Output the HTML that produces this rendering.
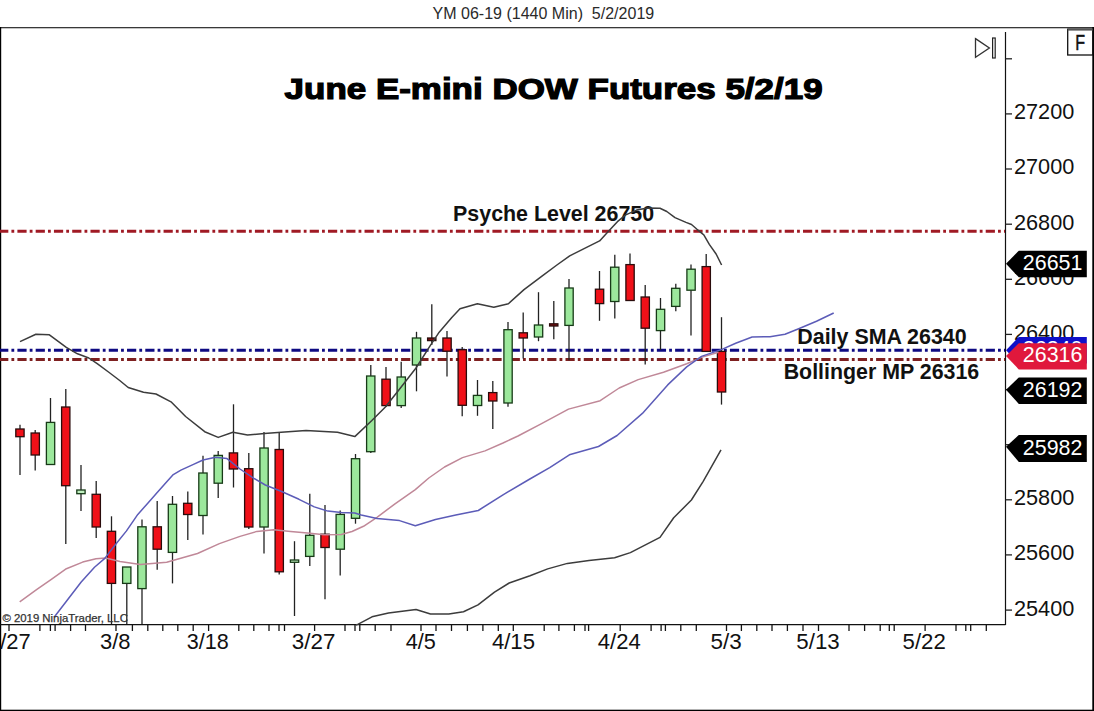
<!DOCTYPE html>
<html><head><meta charset="utf-8"><style>
html,body{margin:0;padding:0;background:#fff;}
body{width:1094px;height:711px;position:relative;overflow:hidden;font-family:"Liberation Sans",sans-serif;}
</style></head><body>
<svg width="1094" height="711" viewBox="0 0 1094 711" style="position:absolute;left:0;top:0">
<rect x="0" y="0" width="1094" height="711" fill="#fff"/>
<rect x="0" y="27" width="1094" height="1.3" fill="#383838"/>
<rect x="0" y="27" width="1.2" height="684" fill="#000"/>
<rect x="1092.3" y="27" width="1.7" height="684" fill="#000"/>
<rect x="0" y="709.7" width="1094" height="1.3" fill="#000"/>
<text x="432.6" y="19.4" font-family="Liberation Sans" font-size="16" fill="#2a2a2a" textLength="221.6" lengthAdjust="spacingAndGlyphs" xml:space="preserve">YM 06-19 (1440 Min)  5/2/2019</text>
<line x1="1005.5" y1="32" x2="1005.5" y2="625" stroke="#111" stroke-width="1.2"/>
<line x1="0" y1="624.6" x2="1005.5" y2="624.6" stroke="#111" stroke-width="1.2"/>
<line x1="9.0" y1="624.6" x2="9.0" y2="631" stroke="#151515" stroke-width="1.3"/>
<line x1="39.9" y1="624.6" x2="39.9" y2="631" stroke="#151515" stroke-width="1.3"/>
<line x1="50.4" y1="624.6" x2="50.4" y2="631" stroke="#151515" stroke-width="1.3"/>
<line x1="55.1" y1="624.6" x2="55.1" y2="631" stroke="#151515" stroke-width="1.3"/>
<line x1="70.6" y1="624.6" x2="70.6" y2="631" stroke="#151515" stroke-width="1.3"/>
<line x1="85.5" y1="624.6" x2="85.5" y2="631" stroke="#151515" stroke-width="1.3"/>
<line x1="116.0" y1="624.6" x2="116.0" y2="631" stroke="#151515" stroke-width="1.3"/>
<line x1="132.4" y1="624.6" x2="132.4" y2="631" stroke="#151515" stroke-width="1.3"/>
<line x1="147.8" y1="624.6" x2="147.8" y2="631" stroke="#151515" stroke-width="1.3"/>
<line x1="162.8" y1="624.6" x2="162.8" y2="631" stroke="#151515" stroke-width="1.3"/>
<line x1="177.8" y1="624.6" x2="177.8" y2="631" stroke="#151515" stroke-width="1.3"/>
<line x1="193.2" y1="624.6" x2="193.2" y2="631" stroke="#151515" stroke-width="1.3"/>
<line x1="208.6" y1="624.6" x2="208.6" y2="631" stroke="#151515" stroke-width="1.3"/>
<line x1="238.8" y1="624.6" x2="238.8" y2="631" stroke="#151515" stroke-width="1.3"/>
<line x1="253.8" y1="624.6" x2="253.8" y2="631" stroke="#151515" stroke-width="1.3"/>
<line x1="269.0" y1="624.6" x2="269.0" y2="631" stroke="#151515" stroke-width="1.3"/>
<line x1="279.0" y1="624.6" x2="279.0" y2="631" stroke="#151515" stroke-width="1.3"/>
<line x1="284.5" y1="624.6" x2="284.5" y2="631" stroke="#151515" stroke-width="1.3"/>
<line x1="314.6" y1="624.6" x2="314.6" y2="631" stroke="#151515" stroke-width="1.3"/>
<line x1="345.0" y1="624.6" x2="345.0" y2="631" stroke="#151515" stroke-width="1.3"/>
<line x1="355.0" y1="624.6" x2="355.0" y2="631" stroke="#151515" stroke-width="1.3"/>
<line x1="359.8" y1="624.6" x2="359.8" y2="631" stroke="#151515" stroke-width="1.3"/>
<line x1="375.2" y1="624.6" x2="375.2" y2="631" stroke="#151515" stroke-width="1.3"/>
<line x1="391.0" y1="624.6" x2="391.0" y2="631" stroke="#151515" stroke-width="1.3"/>
<line x1="421.0" y1="624.6" x2="421.0" y2="631" stroke="#151515" stroke-width="1.3"/>
<line x1="436.0" y1="624.6" x2="436.0" y2="631" stroke="#151515" stroke-width="1.3"/>
<line x1="451.5" y1="624.6" x2="451.5" y2="631" stroke="#151515" stroke-width="1.3"/>
<line x1="467.4" y1="624.6" x2="467.4" y2="631" stroke="#151515" stroke-width="1.3"/>
<line x1="482.9" y1="624.6" x2="482.9" y2="631" stroke="#151515" stroke-width="1.3"/>
<line x1="498.3" y1="624.6" x2="498.3" y2="631" stroke="#151515" stroke-width="1.3"/>
<line x1="513.3" y1="624.6" x2="513.3" y2="631" stroke="#151515" stroke-width="1.3"/>
<line x1="544.2" y1="624.6" x2="544.2" y2="631" stroke="#151515" stroke-width="1.3"/>
<line x1="558.9" y1="624.6" x2="558.9" y2="631" stroke="#151515" stroke-width="1.3"/>
<line x1="574.4" y1="624.6" x2="574.4" y2="631" stroke="#151515" stroke-width="1.3"/>
<line x1="585.0" y1="624.6" x2="585.0" y2="631" stroke="#151515" stroke-width="1.3"/>
<line x1="588.6" y1="624.6" x2="588.6" y2="631" stroke="#151515" stroke-width="1.3"/>
<line x1="620.2" y1="624.6" x2="620.2" y2="631" stroke="#151515" stroke-width="1.3"/>
<line x1="651.1" y1="624.6" x2="651.1" y2="631" stroke="#151515" stroke-width="1.3"/>
<line x1="661.1" y1="624.6" x2="661.1" y2="631" stroke="#151515" stroke-width="1.3"/>
<line x1="665.4" y1="624.6" x2="665.4" y2="631" stroke="#151515" stroke-width="1.3"/>
<line x1="680.8" y1="624.6" x2="680.8" y2="631" stroke="#151515" stroke-width="1.3"/>
<line x1="696.3" y1="624.6" x2="696.3" y2="631" stroke="#151515" stroke-width="1.3"/>
<line x1="726.5" y1="624.6" x2="726.5" y2="631" stroke="#151515" stroke-width="1.3"/>
<line x1="741.4" y1="624.6" x2="741.4" y2="631" stroke="#151515" stroke-width="1.3"/>
<line x1="756.8" y1="624.6" x2="756.8" y2="631" stroke="#151515" stroke-width="1.3"/>
<line x1="772.0" y1="624.6" x2="772.0" y2="631" stroke="#151515" stroke-width="1.3"/>
<line x1="787.4" y1="624.6" x2="787.4" y2="631" stroke="#151515" stroke-width="1.3"/>
<line x1="803.0" y1="624.6" x2="803.0" y2="631" stroke="#151515" stroke-width="1.3"/>
<line x1="818.5" y1="624.6" x2="818.5" y2="631" stroke="#151515" stroke-width="1.3"/>
<line x1="849.0" y1="624.6" x2="849.0" y2="631" stroke="#151515" stroke-width="1.3"/>
<line x1="864.6" y1="624.6" x2="864.6" y2="631" stroke="#151515" stroke-width="1.3"/>
<line x1="880.2" y1="624.6" x2="880.2" y2="631" stroke="#151515" stroke-width="1.3"/>
<line x1="889.3" y1="624.6" x2="889.3" y2="631" stroke="#151515" stroke-width="1.3"/>
<line x1="894.2" y1="624.6" x2="894.2" y2="631" stroke="#151515" stroke-width="1.3"/>
<line x1="925.1" y1="624.6" x2="925.1" y2="631" stroke="#151515" stroke-width="1.3"/>
<line x1="956.0" y1="624.6" x2="956.0" y2="631" stroke="#151515" stroke-width="1.3"/>
<line x1="965.8" y1="624.6" x2="965.8" y2="631" stroke="#151515" stroke-width="1.3"/>
<line x1="970.7" y1="624.6" x2="970.7" y2="631" stroke="#151515" stroke-width="1.3"/>
<line x1="986.3" y1="624.6" x2="986.3" y2="631" stroke="#151515" stroke-width="1.3"/>
<line x1="1005.5" y1="58.8" x2="1012" y2="58.8" stroke="#222" stroke-width="1.3"/>
<line x1="1005.5" y1="113.9" x2="1012" y2="113.9" stroke="#222" stroke-width="1.3"/>
<line x1="1005.5" y1="169.0" x2="1012" y2="169.0" stroke="#222" stroke-width="1.3"/>
<line x1="1005.5" y1="224.2" x2="1012" y2="224.2" stroke="#222" stroke-width="1.3"/>
<line x1="1005.5" y1="279.3" x2="1012" y2="279.3" stroke="#222" stroke-width="1.3"/>
<line x1="1005.5" y1="334.4" x2="1012" y2="334.4" stroke="#222" stroke-width="1.3"/>
<line x1="1005.5" y1="389.6" x2="1012" y2="389.6" stroke="#222" stroke-width="1.3"/>
<line x1="1005.5" y1="444.7" x2="1012" y2="444.7" stroke="#222" stroke-width="1.3"/>
<line x1="1005.5" y1="499.8" x2="1012" y2="499.8" stroke="#222" stroke-width="1.3"/>
<line x1="1005.5" y1="554.9" x2="1012" y2="554.9" stroke="#222" stroke-width="1.3"/>
<line x1="1005.5" y1="610.1" x2="1012" y2="610.1" stroke="#222" stroke-width="1.3"/>
<text x="1014.0" y="119.3" font-family="Liberation Sans" font-size="21.5" fill="#111" textLength="60.3" lengthAdjust="spacingAndGlyphs">27200</text>
<text x="1014.0" y="174.4" font-family="Liberation Sans" font-size="21.5" fill="#111" textLength="60.3" lengthAdjust="spacingAndGlyphs">27000</text>
<text x="1014.0" y="229.6" font-family="Liberation Sans" font-size="21.5" fill="#111" textLength="60.3" lengthAdjust="spacingAndGlyphs">26800</text>
<text x="1014.0" y="284.7" font-family="Liberation Sans" font-size="21.5" fill="#111" textLength="60.3" lengthAdjust="spacingAndGlyphs">26600</text>
<text x="1014.0" y="339.8" font-family="Liberation Sans" font-size="21.5" fill="#111" textLength="60.3" lengthAdjust="spacingAndGlyphs">26400</text>
<text x="1014.0" y="505.2" font-family="Liberation Sans" font-size="21.5" fill="#111" textLength="60.3" lengthAdjust="spacingAndGlyphs">25800</text>
<text x="1014.0" y="560.3" font-family="Liberation Sans" font-size="21.5" fill="#111" textLength="60.3" lengthAdjust="spacingAndGlyphs">25600</text>
<text x="1014.0" y="615.5" font-family="Liberation Sans" font-size="21.5" fill="#111" textLength="60.3" lengthAdjust="spacingAndGlyphs">25400</text>
<text x="0.2" y="649.1" font-family="Liberation Sans" font-size="21.5" fill="#111" textLength="30.5" lengthAdjust="spacingAndGlyphs">/27</text>
<text x="100.0" y="649.1" font-family="Liberation Sans" font-size="21.5" fill="#111" textLength="30.5" lengthAdjust="spacingAndGlyphs">3/8</text>
<text x="186.7" y="649.1" font-family="Liberation Sans" font-size="21.5" fill="#111" textLength="42.0" lengthAdjust="spacingAndGlyphs">3/18</text>
<text x="291.8" y="649.1" font-family="Liberation Sans" font-size="21.5" fill="#111" textLength="43.6" lengthAdjust="spacingAndGlyphs">3/27</text>
<text x="405.8" y="649.1" font-family="Liberation Sans" font-size="21.5" fill="#111" textLength="30.1" lengthAdjust="spacingAndGlyphs">4/5</text>
<text x="491.9" y="649.1" font-family="Liberation Sans" font-size="21.5" fill="#111" textLength="43.1" lengthAdjust="spacingAndGlyphs">4/15</text>
<text x="597.8" y="649.1" font-family="Liberation Sans" font-size="21.5" fill="#111" textLength="42.9" lengthAdjust="spacingAndGlyphs">4/24</text>
<text x="710.5" y="649.1" font-family="Liberation Sans" font-size="21.5" fill="#111" textLength="31.2" lengthAdjust="spacingAndGlyphs">5/3</text>
<text x="796.3" y="649.1" font-family="Liberation Sans" font-size="21.5" fill="#111" textLength="43.4" lengthAdjust="spacingAndGlyphs">5/13</text>
<text x="902.6" y="649.1" font-family="Liberation Sans" font-size="21.5" fill="#111" textLength="43.2" lengthAdjust="spacingAndGlyphs">5/22</text>
<line x1="0" y1="231.3" x2="1005" y2="231.3" stroke="#a01a24" stroke-width="3" stroke-dasharray="9.2 3.1 2.8 3.17" stroke-dashoffset="0.87"/>
<line x1="0" y1="350.2" x2="1005" y2="350.2" stroke="#0e0a82" stroke-width="3" stroke-dasharray="9.2 3.1 2.8 3.17" stroke-dashoffset="0.87"/>
<line x1="0" y1="359.6" x2="1005" y2="359.6" stroke="#7e2020" stroke-width="3" stroke-dasharray="9.2 3.1 2.8 3.17" stroke-dashoffset="0.87"/>
<line x1="20.0" y1="424.8" x2="20.0" y2="475.0" stroke="#222" stroke-width="1.3"/>
<rect x="15.8" y="429.0" width="8.3" height="7.7" fill="#f01018" stroke="#2a0c0c" stroke-width="1.3"/>
<line x1="35.2" y1="430.0" x2="35.2" y2="470.5" stroke="#222" stroke-width="1.3"/>
<rect x="31.1" y="433.0" width="8.3" height="22.0" fill="#f01018" stroke="#2a0c0c" stroke-width="1.3"/>
<line x1="50.5" y1="398.0" x2="50.5" y2="464.5" stroke="#222" stroke-width="1.3"/>
<rect x="46.4" y="422.4" width="8.3" height="42.1" fill="#9ce89c" stroke="#173a17" stroke-width="1.3"/>
<line x1="65.8" y1="389.0" x2="65.8" y2="544.0" stroke="#222" stroke-width="1.3"/>
<rect x="61.6" y="407.0" width="8.3" height="78.7" fill="#f01018" stroke="#2a0c0c" stroke-width="1.3"/>
<line x1="81.0" y1="465.0" x2="81.0" y2="511.0" stroke="#222" stroke-width="1.3"/>
<rect x="76.8" y="490.0" width="8.3" height="3.7" fill="#c0f0c0" stroke="#173a17" stroke-width="1.3"/>
<line x1="96.2" y1="481.0" x2="96.2" y2="538.0" stroke="#222" stroke-width="1.3"/>
<rect x="92.1" y="494.3" width="8.3" height="32.7" fill="#f01018" stroke="#2a0c0c" stroke-width="1.3"/>
<line x1="111.5" y1="516.3" x2="111.5" y2="624.0" stroke="#222" stroke-width="1.3"/>
<rect x="107.3" y="531.3" width="8.3" height="52.1" fill="#f01018" stroke="#2a0c0c" stroke-width="1.3"/>
<line x1="126.8" y1="567.0" x2="126.8" y2="624.0" stroke="#222" stroke-width="1.3"/>
<rect x="122.6" y="567.0" width="8.3" height="16.4" fill="#9ce89c" stroke="#173a17" stroke-width="1.3"/>
<line x1="142.0" y1="519.5" x2="142.0" y2="624.0" stroke="#222" stroke-width="1.3"/>
<rect x="137.8" y="526.8" width="8.3" height="61.8" fill="#9ce89c" stroke="#173a17" stroke-width="1.3"/>
<line x1="157.2" y1="501.0" x2="157.2" y2="569.7" stroke="#222" stroke-width="1.3"/>
<rect x="153.1" y="526.8" width="8.3" height="22.4" fill="#f01018" stroke="#2a0c0c" stroke-width="1.3"/>
<line x1="172.5" y1="496.0" x2="172.5" y2="583.4" stroke="#222" stroke-width="1.3"/>
<rect x="168.3" y="504.3" width="8.3" height="48.1" fill="#9ce89c" stroke="#173a17" stroke-width="1.3"/>
<line x1="187.8" y1="491.6" x2="187.8" y2="540.0" stroke="#222" stroke-width="1.3"/>
<rect x="183.6" y="503.3" width="8.3" height="11.2" fill="#f01018" stroke="#2a0c0c" stroke-width="1.3"/>
<line x1="203.0" y1="455.8" x2="203.0" y2="534.5" stroke="#222" stroke-width="1.3"/>
<rect x="198.8" y="473.0" width="8.3" height="42.5" fill="#9ce89c" stroke="#173a17" stroke-width="1.3"/>
<line x1="218.2" y1="451.0" x2="218.2" y2="498.0" stroke="#222" stroke-width="1.3"/>
<rect x="214.1" y="455.4" width="8.3" height="27.8" fill="#9ce89c" stroke="#173a17" stroke-width="1.3"/>
<line x1="233.5" y1="404.3" x2="233.5" y2="487.5" stroke="#222" stroke-width="1.3"/>
<rect x="229.3" y="452.9" width="8.3" height="16.1" fill="#f01018" stroke="#2a0c0c" stroke-width="1.3"/>
<line x1="248.8" y1="452.9" x2="248.8" y2="529.0" stroke="#222" stroke-width="1.3"/>
<rect x="244.6" y="468.7" width="8.3" height="58.3" fill="#f01018" stroke="#2a0c0c" stroke-width="1.3"/>
<line x1="264.0" y1="432.0" x2="264.0" y2="553.4" stroke="#222" stroke-width="1.3"/>
<rect x="259.9" y="448.0" width="8.3" height="79.0" fill="#9ce89c" stroke="#173a17" stroke-width="1.3"/>
<line x1="279.2" y1="433.0" x2="279.2" y2="574.5" stroke="#222" stroke-width="1.3"/>
<rect x="275.1" y="449.5" width="8.3" height="122.3" fill="#f01018" stroke="#2a0c0c" stroke-width="1.3"/>
<line x1="294.5" y1="541.2" x2="294.5" y2="616.0" stroke="#222" stroke-width="1.3"/>
<rect x="290.4" y="560.0" width="8.3" height="2.3" fill="#c0f0c0" stroke="#173a17" stroke-width="1.3"/>
<line x1="309.8" y1="493.7" x2="309.8" y2="566.0" stroke="#222" stroke-width="1.3"/>
<rect x="305.6" y="535.3" width="8.3" height="21.1" fill="#9ce89c" stroke="#173a17" stroke-width="1.3"/>
<line x1="325.0" y1="505.0" x2="325.0" y2="599.2" stroke="#222" stroke-width="1.3"/>
<rect x="320.9" y="534.2" width="8.3" height="13.3" fill="#f01018" stroke="#2a0c0c" stroke-width="1.3"/>
<line x1="340.2" y1="510.5" x2="340.2" y2="575.4" stroke="#222" stroke-width="1.3"/>
<rect x="336.1" y="514.4" width="8.3" height="34.8" fill="#9ce89c" stroke="#173a17" stroke-width="1.3"/>
<line x1="355.5" y1="454.0" x2="355.5" y2="523.7" stroke="#222" stroke-width="1.3"/>
<rect x="351.4" y="458.7" width="8.3" height="59.6" fill="#9ce89c" stroke="#173a17" stroke-width="1.3"/>
<line x1="370.8" y1="365.0" x2="370.8" y2="453.0" stroke="#222" stroke-width="1.3"/>
<rect x="366.6" y="376.0" width="8.3" height="75.7" fill="#9ce89c" stroke="#173a17" stroke-width="1.3"/>
<line x1="386.0" y1="367.0" x2="386.0" y2="407.0" stroke="#222" stroke-width="1.3"/>
<rect x="381.9" y="379.2" width="8.3" height="26.4" fill="#f01018" stroke="#2a0c0c" stroke-width="1.3"/>
<line x1="401.2" y1="361.7" x2="401.2" y2="408.0" stroke="#222" stroke-width="1.3"/>
<rect x="397.1" y="377.0" width="8.3" height="28.6" fill="#9ce89c" stroke="#173a17" stroke-width="1.3"/>
<line x1="416.5" y1="331.8" x2="416.5" y2="391.3" stroke="#222" stroke-width="1.3"/>
<rect x="412.4" y="338.0" width="8.3" height="27.0" fill="#9ce89c" stroke="#173a17" stroke-width="1.3"/>
<line x1="431.8" y1="304.3" x2="431.8" y2="345.0" stroke="#222" stroke-width="1.3"/>
<rect x="427.6" y="338.0" width="8.3" height="2.6" fill="#801010" stroke="#2a0c0c" stroke-width="1.3"/>
<line x1="447.0" y1="331.0" x2="447.0" y2="376.5" stroke="#222" stroke-width="1.3"/>
<rect x="442.9" y="338.0" width="8.3" height="13.2" fill="#f01018" stroke="#2a0c0c" stroke-width="1.3"/>
<line x1="462.2" y1="347.0" x2="462.2" y2="416.3" stroke="#222" stroke-width="1.3"/>
<rect x="458.1" y="349.7" width="8.3" height="55.6" fill="#f01018" stroke="#2a0c0c" stroke-width="1.3"/>
<line x1="477.5" y1="380.0" x2="477.5" y2="415.8" stroke="#222" stroke-width="1.3"/>
<rect x="473.4" y="395.4" width="8.3" height="10.1" fill="#9ce89c" stroke="#173a17" stroke-width="1.3"/>
<line x1="492.8" y1="381.0" x2="492.8" y2="429.0" stroke="#222" stroke-width="1.3"/>
<rect x="488.6" y="392.6" width="8.3" height="8.4" fill="#f01018" stroke="#2a0c0c" stroke-width="1.3"/>
<line x1="508.0" y1="322.0" x2="508.0" y2="406.7" stroke="#222" stroke-width="1.3"/>
<rect x="503.9" y="329.7" width="8.3" height="73.3" fill="#9ce89c" stroke="#173a17" stroke-width="1.3"/>
<line x1="523.2" y1="312.5" x2="523.2" y2="358.4" stroke="#222" stroke-width="1.3"/>
<rect x="519.1" y="332.8" width="8.3" height="5.2" fill="#f01018" stroke="#2a0c0c" stroke-width="1.3"/>
<line x1="538.5" y1="292.2" x2="538.5" y2="341.2" stroke="#222" stroke-width="1.3"/>
<rect x="534.4" y="325.0" width="8.3" height="12.0" fill="#9ce89c" stroke="#173a17" stroke-width="1.3"/>
<line x1="553.8" y1="301.0" x2="553.8" y2="339.3" stroke="#222" stroke-width="1.3"/>
<rect x="549.6" y="323.8" width="8.3" height="2.2" fill="#801010" stroke="#2a0c0c" stroke-width="1.3"/>
<line x1="569.0" y1="279.0" x2="569.0" y2="360.3" stroke="#222" stroke-width="1.3"/>
<rect x="564.9" y="288.0" width="8.3" height="37.4" fill="#9ce89c" stroke="#173a17" stroke-width="1.3"/>
<line x1="599.5" y1="271.0" x2="599.5" y2="320.8" stroke="#222" stroke-width="1.3"/>
<rect x="595.4" y="289.2" width="8.3" height="14.4" fill="#f01018" stroke="#2a0c0c" stroke-width="1.3"/>
<line x1="614.8" y1="254.8" x2="614.8" y2="318.4" stroke="#222" stroke-width="1.3"/>
<rect x="610.6" y="267.2" width="8.3" height="34.3" fill="#9ce89c" stroke="#173a17" stroke-width="1.3"/>
<line x1="630.0" y1="253.4" x2="630.0" y2="300.5" stroke="#222" stroke-width="1.3"/>
<rect x="625.9" y="264.6" width="8.3" height="35.9" fill="#f01018" stroke="#2a0c0c" stroke-width="1.3"/>
<line x1="645.2" y1="285.0" x2="645.2" y2="364.5" stroke="#222" stroke-width="1.3"/>
<rect x="641.1" y="297.0" width="8.3" height="31.2" fill="#f01018" stroke="#2a0c0c" stroke-width="1.3"/>
<line x1="660.5" y1="298.0" x2="660.5" y2="350.0" stroke="#222" stroke-width="1.3"/>
<rect x="656.4" y="309.3" width="8.3" height="21.3" fill="#9ce89c" stroke="#173a17" stroke-width="1.3"/>
<line x1="675.8" y1="283.7" x2="675.8" y2="311.3" stroke="#222" stroke-width="1.3"/>
<rect x="671.6" y="288.3" width="8.3" height="18.1" fill="#9ce89c" stroke="#173a17" stroke-width="1.3"/>
<line x1="691.0" y1="264.6" x2="691.0" y2="335.5" stroke="#222" stroke-width="1.3"/>
<rect x="686.9" y="269.2" width="8.3" height="21.0" fill="#9ce89c" stroke="#173a17" stroke-width="1.3"/>
<line x1="706.2" y1="254.0" x2="706.2" y2="351.4" stroke="#222" stroke-width="1.3"/>
<rect x="702.1" y="266.6" width="8.3" height="84.8" fill="#f01018" stroke="#2a0c0c" stroke-width="1.3"/>
<line x1="721.5" y1="317.2" x2="721.5" y2="404.6" stroke="#222" stroke-width="1.3"/>
<rect x="717.4" y="351.4" width="8.3" height="40.6" fill="#f01018" stroke="#2a0c0c" stroke-width="1.3"/>
<text x="284.6" y="99.2" font-family="Liberation Sans" font-weight="bold" font-size="29" fill="#000" stroke="#000" stroke-width="1.2" textLength="538" lengthAdjust="spacingAndGlyphs">June E-mini DOW Futures 5/2/19</text>
<text x="453.1" y="221" font-family="Liberation Sans" font-weight="bold" font-size="22" fill="#111" textLength="201" lengthAdjust="spacingAndGlyphs">Psyche Level 26750</text>
<text x="797.3" y="343.6" font-family="Liberation Sans" font-weight="bold" font-size="22" fill="#111" textLength="169.3" lengthAdjust="spacingAndGlyphs">Daily SMA 26340</text>
<text x="783.7" y="379.4" font-family="Liberation Sans" font-weight="bold" font-size="22" fill="#111" textLength="195.5" lengthAdjust="spacingAndGlyphs">Bollinger MP 26316</text>
<polyline points="20.0,341.6 35.9,334.3 49.4,334.8 66.3,347.4 77.5,353.8 88.8,358.0 97.2,363.6 108.5,372.0 119.7,380.5 128.2,387.5 143.5,392.3 156.0,394.0 171.0,401.8 185.6,416.5 204.7,431.7 218.2,437.4 232.9,432.2 247.5,435.0 264.4,433.5 281.2,432.2 306.0,430.6 337.5,432.2 354.8,436.6 371.6,420.8 385.4,407.0 401.2,387.0 416.0,368.0 430.7,344.9 439.2,332.2 451.8,317.4 460.0,308.8 477.4,303.7 493.8,307.3 508.4,303.7 524.0,289.6 542.3,275.9 556.9,265.0 569.7,255.8 586.1,247.6 599.6,240.9 607.8,232.0 617.4,221.7 625.7,214.9 636.6,210.1 647.6,208.0 660.0,208.3 666.8,211.5 675.0,217.6 686.0,222.4 691.5,224.5 697.0,229.3 703.8,234.8 709.3,244.4 716.1,254.0 721.6,265.0" fill="none" stroke="#3c3c3c" stroke-width="1.5" stroke-linejoin="round"/>
<polyline points="356.0,625.0 358.3,624.1 372.0,616.8 388.5,613.1 416.0,609.5 430.5,614.0 448.8,614.0 463.5,611.7 478.0,604.9 494.5,592.1 509.2,583.0 530.0,575.7 547.7,568.9 567.4,563.4 589.0,560.5 614.6,557.7 630.4,552.6 660.0,537.4 673.7,517.8 691.4,500.0 703.2,481.3 721.0,449.8" fill="none" stroke="#3c3c3c" stroke-width="1.5" stroke-linejoin="round"/>
<polyline points="19.7,601.8 36.9,589.4 51.7,579.1 66.4,568.7 82.7,562.1 96.0,558.7 105.6,558.1 120.0,561.5 140.4,564.5 166.7,562.3 197.5,553.5 219.4,543.6 240.0,536.4 256.9,531.4 273.8,529.7 290.6,531.4 307.5,533.0 324.4,534.7 341.3,534.5 352.0,531.5 363.5,526.3 377.0,517.3 395.0,503.8 415.3,489.6 428.8,478.0 444.5,467.0 462.5,457.6 485.0,450.9 503.0,443.0 518.0,436.0 541.1,423.9 568.5,409.1 600.2,400.7 619.2,388.0 638.2,379.6 663.5,372.2 686.7,363.8 701.5,357.4 718.4,352.2" fill="none" stroke="#c08898" stroke-width="1.5" stroke-linejoin="round"/>
<polyline points="54.5,616.8 66.4,601.2 81.2,582.0 94.5,567.2 104.8,558.4 116.3,543.5 126.5,530.9 137.8,514.4 148.0,503.0 158.1,491.6 167.0,481.5 173.3,474.6 180.9,470.1 193.5,464.4 203.0,460.0 215.6,457.2 227.0,458.6 240.0,469.0 253.5,478.2 265.3,485.0 282.2,491.7 299.0,499.3 314.3,506.9 327.8,511.1 341.3,512.5 354.8,513.0 361.2,515.0 377.0,518.4 399.5,520.6 415.3,525.8 435.5,519.5 455.8,515.0 478.3,510.5 503.0,494.8 529.0,479.5 549.7,467.6 569.4,454.8 598.5,446.5 617.1,435.5 642.4,413.4 667.7,384.9 686.7,366.9 701.5,356.4 721.9,349.4 735.7,343.2 752.1,337.0 770.0,336.7 785.0,334.3 798.7,328.8 816.5,321.3 833.7,313.0" fill="none" stroke="#5c5cb8" stroke-width="1.5" stroke-linejoin="round"/>
<text x="2.4" y="622" font-family="Liberation Sans" font-size="11" fill="#333" stroke="#333" stroke-width="0.25" textLength="125.5" lengthAdjust="spacingAndGlyphs">© 2019 NinjaTrader, LLC</text>
<path d="M975.5,38.6 L989.4,48 L975.5,57.3 Z" fill="none" stroke="#333" stroke-width="1.3" stroke-linejoin="miter"/>
<rect x="992.6" y="38" width="2.6" height="20" fill="none" stroke="#222" stroke-width="1.2"/>
<rect x="1067.7" y="29.2" width="25" height="25.8" fill="#fff" stroke="#111" stroke-width="1.3"/>
<line x1="1067.7" y1="29.6" x2="1092.7" y2="29.6" stroke="#555" stroke-width="2"/>
<text x="1075.3" y="50.4" font-family="Liberation Sans" font-size="21.5" fill="#111" stroke="#111" stroke-width="0.5" textLength="9.8" lengthAdjust="spacingAndGlyphs">F</text>
<path d="M1006,263.8 L1018.8,250.7 L1086.8,250.7 L1086.8,277.3 L1018.8,277.3 Z" fill="#000"/>
<text x="1022.8" y="269.9" font-family="Liberation Sans" font-size="22" fill="#fff" textLength="59.6" lengthAdjust="spacingAndGlyphs">26651</text>
<path d="M1006,350.2 L1018.8,336.9 L1086.8,336.9 L1086.8,363.5 L1018.8,363.5 Z" fill="#1010c8"/>
<text x="1022.8" y="356.1" font-family="Liberation Sans" font-size="22" fill="#fff" textLength="59.6" lengthAdjust="spacingAndGlyphs">26340</text>
<path d="M1006,355.9 L1018.8,343.2 L1086.8,343.2 L1086.8,369.4 L1018.8,369.4 Z" fill="#e0183c"/>
<text x="1022.8" y="362.0" font-family="Liberation Sans" font-size="22" fill="#fff" textLength="59.6" lengthAdjust="spacingAndGlyphs">26316</text>
<path d="M1006,389.7 L1018.8,377.4 L1086.8,377.4 L1086.8,404.0 L1018.8,404.0 Z" fill="#000"/>
<text x="1022.8" y="396.6" font-family="Liberation Sans" font-size="22" fill="#fff" textLength="59.6" lengthAdjust="spacingAndGlyphs">26192</text>
<path d="M1006,446.7 L1018.8,435.0 L1086.8,435.0 L1086.8,461.9 L1018.8,461.9 Z" fill="#000"/>
<text x="1022.8" y="454.5" font-family="Liberation Sans" font-size="22" fill="#fff" textLength="59.6" lengthAdjust="spacingAndGlyphs">25982</text>
</svg>
</body></html>
